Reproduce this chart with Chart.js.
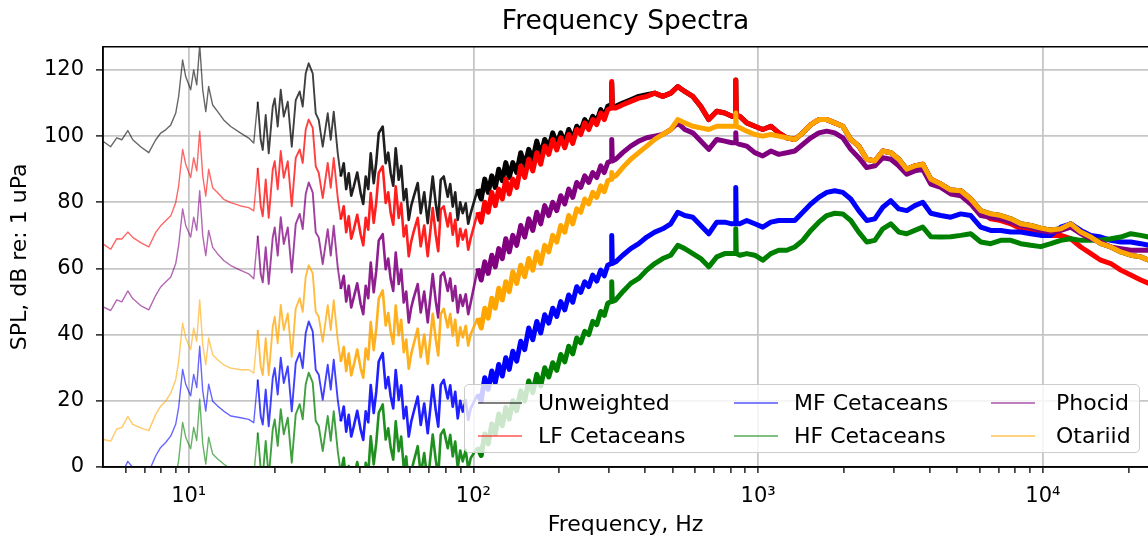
<!DOCTYPE html>
<html>
<head>
<meta charset="utf-8">
<title>Frequency Spectra</title>
<script src="https://cdn.jsdelivr.net/npm/chart.js@4.4.1/dist/chart.umd.min.js"></script>
<style>
  body { margin: 0; background: #fff; }
  #wrap { position: relative; width: 1148px; height: 542px; overflow: hidden; }
  #legend {
    position: absolute; left: 464px; top: 384px; width: 676px; height: 69px;
    box-sizing: border-box; background: rgba(255, 255, 255, 0.8);
    border: 1px solid #cccccc; border-radius: 5px;
    font-family: "DejaVu Sans"; font-size: 22px; color: #000;
  }
  .swatch { position: absolute; width: 44px; height: 2px; }
  .label { position: absolute; line-height: 26px; white-space: nowrap; }
</style>
</head>
<body>
<div id="wrap">
  <canvas id="myChart" width="1148" height="542"></canvas>
  <div id="legend"></div>
</div>
<script>
const ctx = document.getElementById("myChart");

// frequencies (Hz) shared by every spectrum
const freqs = [
  5.03, 5.32, 5.59, 5.82, 6.11, 6.36, 6.78, 7.24, 7.66, 7.97,
  8.30, 8.65, 9.00, 9.22, 9.52, 9.76, 10.16, 10.41, 10.67, 10.93,
  11.20, 11.48, 11.75, 12.14, 12.64, 13.27, 14.05, 15.23, 16.25, 16.92,
  17.47, 17.90, 18.20, 18.64, 19.10, 19.73, 20.05, 20.54, 21.05, 21.57,
  22.28, 23.01, 23.76, 24.54, 25.14, 25.76, 26.39, 27.26, 27.93, 28.62,
  29.56, 30.78, 31.54, 32.31, 33.38,
  34.20, 35.04, 35.74, 36.48, 37.22, 37.98, 39.07, 40.19, 41.02, 41.85,
  42.71, 43.58, 44.65, 45.56, 46.49, 48.02, 49.19, 50.21, 51.22, 52.28,
  53.34, 54.65, 55.77, 56.91, 58.07, 59.26, 60.47, 61.71, 63.73, 65.30,
  67.17, 69.10, 71.95, 73.72, 75.23, 76.77, 78.66, 81.24, 82.89, 84.59,
  86.32, 88.08, 89.88, 91.72, 93.97, 95.88, 97.84,
  103.5, 106.5, 109.6, 112.7, 116.0, 119.3, 122.7, 126.3, 129.9, 133.6,
  137.5, 141.9, 146.6, 151.4, 156.4, 161.6, 166.9, 172.3, 178.0, 183.9,
  189.9, 196.2, 202.6, 209.3, 216.1, 223.3, 230.6, 238.2, 246.0, 254.1,
  262.4, 271.1, 280.0, 288.1, 296.3,
  304.5, 306, 307.5,
  316.1, 334.5, 356.9, 380.7, 406.2, 433.4, 462.3, 493.3, 522.0, 552.4,
  589.3, 628.7, 670.8, 715.6, 763.5, 807.9,
  831, 834.5, 838,
  861.9, 912.0, 973.0, 1038, 1108, 1181,
  1260, 1345, 1435, 1531, 1633, 1742, 1858, 1983,
  2115, 2256, 2407, 2568, 2740, 2923, 3118, 3327, 3549, 3786,
  4040, 4379, 4748, 5147, 5580, 6050, 6560, 7113, 7714, 8363,
  9069, 9832, 10660, 11560, 12530, 13590, 14740, 15970, 17320, 18780,
  20360, 22080, 23550
];

const unweighted = [
  98.3, 96.8, 99.5, 98.9, 101.7, 98.9, 96.8, 95.0, 98.9, 100.9,
  101.9, 103.4, 106.9, 112, 123, 118, 114, 120, 115.5, 127.5,
  114, 107.4, 115, 109.4, 107.4, 104.9, 102.9, 100.9, 99.4, 97.9,
  110.4, 98.9, 95.8, 106.4, 94.8, 108.9, 111.4, 102.9, 114, 105.9,
  110.4, 96.8, 110.9, 113.5, 108.9, 119, 122, 119, 106.9, 104.9,
  96.8, 106.9, 98.9, 107.4, 94.8,
  87.8, 91.8, 84, 88.8, 82, 84.7, 89, 82.7, 79.5, 87.8,
  84, 94.8, 85.8, 92, 100.9, 102.9, 91.8, 95, 88.8, 85,
  96.3, 86.8, 91, 80.7, 84, 74.7, 79, 81.7, 85.8, 76.7,
  83, 73.7, 87.8, 79.7, 74.5, 86.8, 87.8, 81.7, 85.5, 78.7,
  83, 74.7, 80, 76.7, 79.7, 73.5, 76.7,
  84, 81, 87, 83, 88, 84.5, 90, 86.5, 92, 87.5,
  92, 89, 95, 91, 96, 92.8, 98.5, 94.2, 99, 96.5,
  101, 97.5, 101, 98, 102, 99, 103, 101.5, 105, 103,
  106, 104.5, 108, 106, 109,
  109.5, 116, 109.5,
  109, 110, 111, 112, 112.5, 113, 112, 113, 115, 113.5,
  112, 109, 105, 107.5, 107, 106,
  106, 117, 106,
  106, 104, 103, 102, 103, 101,
  99.5, 99, 101, 103.5, 105, 105, 104, 103,
  99, 97, 93, 92.5, 95.5, 95, 93, 90, 91, 91.5,
  87, 85.5, 83.7, 83.5, 81, 77.5, 76.5, 76, 75, 73.5,
  73, 72.2, 71.6, 72, 73.5, 71, 69.5, 67.5, 66.5, 65,
  64, 63.5, 62.5
];

const lfCetaceans = [
  67.3, 65.8, 69, 68.9, 71, 69.4, 67.8, 66.5, 70.9, 72.9,
  74.4, 75.9, 79.9, 85, 96, 91.5, 87.5, 93.5, 89.5, 101.5,
  88, 81.9, 90, 84.4, 82.9, 80.9, 79.9, 78.9, 78.4, 77.4,
  90.4, 78.9, 75.8, 86.9, 75.3, 89.9, 92.4, 83.9, 95.5, 87.4,
  92.4, 78.8, 93.4, 96, 91.9, 102, 105, 102.5, 90.9, 88.9,
  81.3, 91.9, 84.4, 93.4, 81.3,
  74.8, 78.8, 71, 75.8, 69, 71.7, 76.2, 70.2, 67, 75.3,
  71.7, 82.8, 73.8, 80, 88.9, 90.9, 79.8, 83, 76.8, 73.2,
  84.8, 75.3, 79.7, 69.7, 73, 63.7, 68.2, 71.2, 75.3, 66.7,
  73, 63.7, 78.3, 70.2, 65.2, 77.8, 78.8, 72.7, 76.7, 70.2,
  74.7, 66.7, 72, 68.7, 71.7, 65.7, 69.2,
  77, 74, 80, 77, 83, 79, 84, 81, 87, 82.5,
  87, 84.5, 91, 87.5, 93, 89.5, 95, 91.5, 97, 94.5,
  99, 95.8, 99.5, 96.5, 100.5, 97.8, 102, 100.5, 104, 102,
  105, 103.5, 107, 105, 108,
  108.5, 116.5, 108.5,
  108.5, 109.5, 110.5, 111.5, 112, 113, 112, 113, 115, 113.5,
  112, 109, 105, 107.5, 107, 106,
  106, 117, 106,
  106, 104, 103, 102, 103, 101,
  99.5, 99, 101, 103.5, 105, 105, 104, 103,
  99, 97, 93, 92.5, 95.5, 95, 93, 90, 91, 91.5,
  87, 85.5, 83.7, 83.5, 81, 77, 75, 74.5, 73.5, 72,
  71.5, 70.5, 70, 70, 69, 66.5, 64.5, 62.5, 61.5, 59.5,
  58, 56.5, 55.5
];

const mfCetaceans = [
  -5.7, -6.2, -2.5, -2.1, 1.7, -0.1, -0.7, -1.5, 3.4, 5.9,
  7.4, 9.4, 12.9, 18, 29.5, 25, 21.5, 28, 24, 36.5,
  23, 16.9, 25, 19.9, 18.4, 16.9, 15.4, 14.9, 14.4, 13.4,
  26.4, 15.4, 12.8, 23.4, 12.3, 26.9, 29.9, 21.9, 33, 25.4,
  30.4, 16.8, 31.4, 34.5, 29.9, 40.5, 44, 41, 29.4, 27.9,
  20.3, 30.9, 23.4, 32.4, 20.3,
  13.8, 18.3, 10.7, 15.8, 9.2, 12.2, 17, 11.2, 8.2, 16.8,
  13.5, 24.8, 16.3, 22.7, 31.9, 34.4, 23.8, 27.2, 21.3, 17.7,
  29.3, 20.3, 24.7, 14.7, 18.2, 9.2, 13.7, 16.7, 21.3, 12.7,
  19.2, 10.2, 24.8, 17.2, 12.2, 24.8, 26.3, 20.7, 24.7, 18.2,
  22.7, 14.7, 20, 16.7, 20.2, 14.2, 17.7,
  22, 20, 27, 23.5, 29, 25.5, 31, 27.5, 33, 29.5,
  35, 32, 38, 35.5, 42, 38.5, 44, 40.5, 46, 43.5,
  48, 45.5, 50, 47.5, 52, 49.8, 54.5, 52.8, 56, 54.5,
  58, 56.2, 59.5, 57.8, 61,
  61.5, 70, 61.5,
  62, 64, 66, 67.5, 69.5, 71, 72, 73.5, 77, 76,
  75.5, 73, 70.5, 74, 74, 73.5,
  73.5, 84.5, 73.5,
  73.5, 74.5, 73.5, 72.5, 74, 74.5,
  74.5, 74.5, 77, 79.5, 81.5, 83, 83.5, 83,
  81, 77.5, 74.5, 75, 78.5, 80.5, 78, 77.5, 79, 80,
  76.7, 76, 75.5, 76.5, 76, 72.5, 71.5, 71.5, 71, 71,
  70.5, 70, 70, 72.5, 73.5, 71.5, 70, 69.5, 68.5, 68,
  68, 67.5, 67
];

const hfCetaceans = [
  -21.7, -22.2, -18.5, -18.1, -14.3, -16.1, -16.7, -17.5, -12.6, -10.1,
  -8.6, -6.6, -3.1, 2, 13.5, 9, 5.5, 12, 8, 20.5,
  7, 0.9, 9, 3.9, 2.4, 0.9, -0.6, -1.1, -1.6, -2.6,
  10.4, -0.6, -2.7, 7.9, -3.2, 11.4, 14.4, 6.4, 17.5, 9.9,
  14.9, 1.3, 15.9, 19, 14.4, 25, 28.5, 25.5, 13.9, 12.4,
  4.8, 15.4, 7.9, 16.9, 4.8,
  -1.7, 2.8, -4.8, 0.3, -6.3, -3.3, 1.5, -4.3, -7.3, 1.3,
  -2, 9.3, 0.8, 7.2, 16.4, 18.9, 8.3, 11.7, 5.8, 2.2,
  13.8, 4.8, 9.2, -0.3, 3.2, -5.8, -1.3, 1.7, 6.3, -2.3,
  4.2, -4.8, 9.8, 2.2, -2.8, 9.8, 11.3, 5.7, 9.7, 3.2,
  7.7, -0.3, 5, 1.7, 5.2, -0.8, 2.7,
  6, 3.5, 10, 7, 13, 10, 16, 12.5, 18, 14.5,
  20, 17, 23, 20, 26, 22.5, 28, 24.5, 30, 27.2,
  31.5, 29.2, 34, 31.8, 36.5, 34.2, 39, 37.5, 41, 40,
  44, 43, 47, 45.8, 49.5,
  50, 56, 50,
  50.5, 53, 55.5, 57, 59.5, 61.5, 63, 64, 67, 66,
  64.5, 63, 60.5, 63.5, 64.5, 64.5,
  64.5, 72, 64.5,
  64, 64.5, 64, 62.5, 64.5, 65.5,
  65.5, 66.5, 68.5, 71.5, 74, 76, 76.7, 76.5,
  74.5, 71, 68, 68.5, 72, 73.5, 71, 70.5, 71.5, 72.5,
  69.6, 69.5, 69.6, 70, 70.5, 68, 67.5, 68.5, 68.5, 67.5,
  67, 66.6, 67.5, 68.5, 69, 68.5, 68.5, 68.6, 69, 69.5,
  70.5, 70, 69.5
];

const phocid = [
  48.3, 47.3, 50.5, 49.9, 53.2, 50.9, 48.8, 47.5, 51.9, 54.4,
  55.9, 57.4, 61.4, 67, 78, 73, 69.5, 75.5, 71.5, 83.5,
  70, 63.9, 71.5, 66.4, 64.4, 62.4, 60.9, 59.4, 58.4, 56.9,
  69.9, 58.4, 55.8, 66.4, 55.3, 69.4, 72.4, 63.9, 75.5, 67.4,
  72.4, 58.8, 73.4, 76.5, 71.9, 82.5, 86, 83, 70.9, 69.4,
  61.3, 71.9, 63.9, 72.9, 60.3,
  53.8, 57.8, 50, 54.8, 48.2, 51.2, 55.5, 49.2, 46.2, 54.8,
  51, 61.8, 52.8, 59.2, 68.4, 70.4, 59.8, 63, 56.8, 53.2,
  64.8, 55.3, 59.7, 49.7, 53, 43.7, 48.2, 51.2, 55.3, 46.7,
  53, 43.7, 58.3, 50.2, 45.2, 57.8, 58.8, 53.2, 57, 50.2,
  54.7, 46.7, 52, 48.7, 52.2, 46.2, 49.7,
  60, 56.5, 62, 58.5, 64, 60.5, 66, 63, 69, 65,
  70, 67, 73, 69.5, 75, 71.5, 77, 73.5, 79, 76,
  80, 77.5, 82, 79.5, 84, 81.5, 86, 84.5, 88, 86,
  89, 87.5, 91, 89, 92,
  92.5, 99, 92.5,
  93, 95, 97, 98.5, 99.5, 100, 100.5, 102, 104, 102,
  101, 98.5, 96, 99, 98.5, 98,
  98, 101, 98,
  97.5, 97, 95, 94, 95.5, 94.5,
  95, 95.5, 97.5, 99.5, 101, 101.5, 101, 99.5,
  96, 93.5, 90.5, 91, 93.5, 93, 91, 88.5, 89.5, 90,
  85.5, 84.5, 82.5, 82, 79.5, 76, 75.5, 75, 74, 73,
  72.5, 71.5, 71, 71.5, 72.5, 70.5, 69, 68, 66.5, 66,
  65.5, 65.5, 65.5
];

const otariid = [
  8.3, 7.8, 11.5, 11.9, 15.2, 12.9, 11.8, 11, 15.9, 18.4,
  19.9, 22.4, 26.4, 32, 43.5, 39, 35.5, 42, 38, 50.5,
  37, 30.9, 39, 33.9, 32.4, 30.9, 29.9, 29.4, 29.4, 28.4,
  41.4, 30.4, 27.8, 38.9, 27.8, 42.4, 45.4, 37.4, 49, 41.4,
  46.4, 33.3, 47.9, 51, 46.9, 57.5, 61, 58.5, 46.9, 45.4,
  37.8, 48.9, 41.4, 50.4, 38.3,
  31.8, 36.3, 29, 34.3, 27.7, 30.7, 35.5, 29.7, 27, 35.8,
  32.5, 43.8, 35.3, 41.7, 50.9, 53.4, 42.8, 46.5, 40.8, 37.2,
  48.8, 39.8, 44.5, 34.7, 38.5, 29.7, 34.2, 37.2, 41.8, 33.2,
  40, 31.2, 46.3, 38.7, 33.7, 46.3, 47.8, 42.2, 46.2, 39.7,
  44.5, 36.7, 42.2, 39.2, 42.7, 36.7, 40.2,
  45, 42, 48, 45, 51, 48, 54, 50.5, 56, 53,
  59, 55.5, 61, 57.5, 63, 59.5, 65, 61.5, 67, 65,
  70, 68, 73, 71, 76, 73.5, 78, 77, 81, 79.5,
  83, 81.5, 85, 83.2, 86.5,
  87, 89, 87.5,
  88, 90.5, 93, 95, 97, 99, 100.5, 102, 105, 104,
  103, 102.5, 102, 103, 103, 103,
  103, 107, 103,
  102.5, 101.5, 100.5, 100, 100.5, 100,
  99.5, 99, 101, 103.5, 105, 105, 104, 103,
  99, 97, 93, 92.5, 95.5, 95, 93, 90, 91, 91.5,
  87, 85.5, 83.7, 83.5, 81, 77.5, 76.5, 76, 75, 73.5,
  73, 72.2, 71.6, 72, 73.5, 71, 69.5, 67.5, 66.5, 65,
  64, 63.5, 62.5
];

const seriesNames = ["Unweighted", "LF Cetaceans", "MF Cetaceans", "HF Cetaceans", "Phocid", "Otariid"];
const seriesColors = ["0,0,0", "255,0,0", "0,0,255", "0,128,0", "128,0,128", "255,165,0"];
const allSeries = [unweighted, lfCetaceans, mfCetaceans, hfCetaceans, phocid, otariid];

const yTicks = [0, 20, 40, 60, 80, 100, 120];
const xMajorTicks = [10, 100, 1000, 10000];
const xMinorTicks = [6, 7, 8, 9, 20, 30, 40, 50, 60, 70, 80, 90,
  200, 300, 400, 500, 600, 700, 800, 900,
  2000, 3000, 4000, 5000, 6000, 7000, 8000, 9000, 20000];
const xTickLabels = { 10: "10¹", 100: "10²", 1000: "10³", 10000: "10⁴" };

const font = "DejaVu Sans";

// thin lines at low freq, dense noisy band above 100 Hz
const widthFor = (f) => (f < 17 ? 1.4 : f < 34 ? 1.9 : f < 100 ? 2.6 : 5);
const alphaFor = (f) => (f < 17 ? 0.6 : f < 34 ? 0.75 : f < 100 ? 0.88 : 1);

const datasets = allSeries.map((values, i) => {
  return {
    label: seriesNames[i],
    data: values.map((v, j) => ({ x: freqs[j], y: v })),
    order: allSeries.length - i,
    borderColor: "rgb(" + seriesColors[i] + ")",
    borderWidth: 1.4,
    pointRadius: 0,
    borderJoinStyle: "round",
    segment: {
      borderWidth: (s) => widthFor(freqs[s.p0DataIndex]),
      borderColor: (s) => "rgba(" + seriesColors[i] + "," + alphaFor(freqs[s.p0DataIndex]) + ")",
    },
  };
});

const spines = {
  id: "spines",
  afterDatasetsDraw(chart) {
    const { ctx, chartArea } = chart;
    ctx.save();
    ctx.strokeStyle = "#000";
    ctx.lineWidth = 1.5;
    ctx.beginPath();
    ctx.moveTo(chartArea.left, chartArea.top);
    ctx.lineTo(chartArea.right + 2, chartArea.top);
    ctx.moveTo(chartArea.left, chartArea.top);
    ctx.lineTo(chartArea.left, chartArea.bottom);
    ctx.lineTo(chartArea.right + 2, chartArea.bottom);
    ctx.stroke();
    ctx.restore();
  },
};

new Chart(ctx, {
  type: "line",
  data: { datasets: datasets },
  plugins: [spines],
  options: {
    responsive: false,
    animation: false,
    devicePixelRatio: 1,
    layout: { padding: 0 },
    plugins: {
      legend: { display: false },
      tooltip: { enabled: false },
      title: {
        display: true,
        text: "Frequency Spectra",
        fullSize: false,
        color: "#000",
        font: { family: font, size: 26.5, weight: "normal" },
        padding: { top: 6, bottom: 9 },
      },
    },
    scales: {
      x: {
        type: "logarithmic",
        min: 5,
        max: 23400,
        afterBuildTicks: (scale) => {
          scale.ticks = xMinorTicks.concat(xMajorTicks).sort((a, b) => a - b).map((v) => ({ value: v }));
        },
        afterFit: (scale) => {
          scale.height = 75;
        },
        ticks: {
          autoSkip: false,
          maxRotation: 0,
          padding: 11,
          color: "#000",
          font: { family: font, size: 21 },
          callback: (v) => xTickLabels[v] || "",
        },
        grid: {
          color: (c) => (c.tick && xMajorTicks.includes(c.tick.value) ? "#c6c6c6" : "rgba(0,0,0,0)"),
          lineWidth: 1.8,
          tickColor: "#000",
          tickLength: 6,
          tickWidth: 1.3,
        },
        border: { color: "#000", width: 1.5 },
        title: {
          display: true,
          text: "Frequency, Hz",
          color: "#000",
          font: { family: font, size: 22 },
          padding: { top: 0, bottom: 4 },
        },
      },
      y: {
        min: 0,
        max: 127,
        afterBuildTicks: (scale) => {
          scale.ticks = yTicks.map((v) => ({ value: v }));
        },
        afterFit: (scale) => {
          scale.width = 103;
        },
        ticks: {
          padding: 12,
          color: "#000",
          font: { family: font, size: 21 },
        },
        grid: {
          color: "#c6c6c6",
          lineWidth: 1.8,
          tickColor: "#000",
          tickLength: 7,
          tickWidth: 1.3,
        },
        border: { color: "#000", width: 1.5 },
        title: {
          display: true,
          text: "SPL, dB re: 1 uPa",
          color: "#000",
          font: { family: font, size: 22 },
          padding: { top: 7, bottom: 0 },
        },
      },
    },
  },
});

// legend inside the plot, three columns
const legendEl = document.getElementById("legend");
const swatchLeft = [13, 269, 526];
const textLeft = [73, 329, 591];
const rowMid = [18, 51];
for (let i = 0; i < seriesNames.length; i += 1) {
  const col = Math.floor(i / 2);
  const row = i % 2;
  const sw = document.createElement("div");
  sw.className = "swatch";
  sw.style.left = swatchLeft[col] + "px";
  sw.style.top = rowMid[row] - 1 + "px";
  sw.style.background = "rgba(" + seriesColors[i] + ",0.5)";
  legendEl.appendChild(sw);
  const lb = document.createElement("div");
  lb.className = "label";
  lb.style.left = textLeft[col] + "px";
  lb.style.top = rowMid[row] - 13 + "px";
  lb.textContent = seriesNames[i];
  legendEl.appendChild(lb);
}
</script>
</body>
</html>
